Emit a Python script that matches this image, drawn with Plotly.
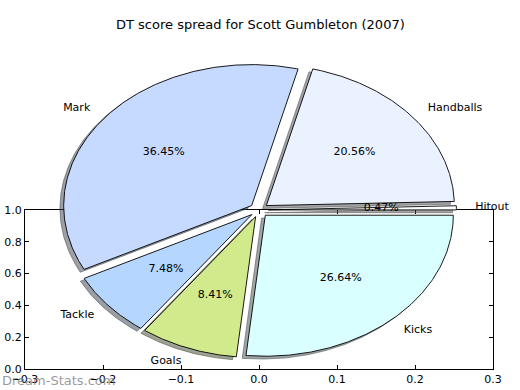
import numpy as np
import plotly.graph_objects as go

# ---------------- data ----------------
labels = ["Hitout", "Handballs", "Mark", "Tackle", "Goals", "Kicks"]
values = [0.47, 20.56, 36.45, 7.48, 8.41, 26.64]
colors = ["#ffffff", "#ebf2ff", "#c6d9fe", "#b4d6ff", "#d0ea8c", "#d9ffff"]
x_ticks = [-0.3, -0.2, -0.1, 0.0, 0.1, 0.2, 0.3]
y_ticks = [0.0, 0.2, 0.4, 0.6, 0.8, 1.0]
title = "DT score spread for Scott Gumbleton (2007)"
watermark = "Dream-Stats.com"

# ---------------- style ----------------
W, H = 520, 390
FONT = "DejaVu Sans"
EXPLODE = 0.05
SHADOW = (-0.02, -0.02)
LABEL_DIST = 1.1
PCT_DIST = 0.6
# pie axes mapping (pixels)
CX, CY, SX, SY = 259.0, 210.0, 188.0, 141.0


def fx(p):   # x pixel -> paper fraction
    return p / W


def fy(p):   # y pixel (from top) -> paper fraction
    return (H - p) / H


def hex_rgb(h):
    h = h.lstrip("#")
    return tuple(int(h[i:i + 2], 16) for i in (0, 2, 4))


fig = go.Figure()
# empty trace so that the framed axes is drawn
fig.add_trace(go.Scatter(x=[None], y=[None], xaxis="x", yaxis="y",
                         showlegend=False, hoverinfo="skip"))

total = float(sum(values))
starts, ends = [], []
t = 0.0
for v in values:
    starts.append(t)
    t += 360.0 * v / total
    ends.append(t)


def wedge_xy(t1, t2, dx, dy):
    n = max(int((t2 - t1) * 2), 2) + 1
    th = np.radians(np.linspace(t1, t2, n))
    xs = np.concatenate([[dx], dx + np.cos(th), [dx]])
    ys = np.concatenate([[dy], dy + np.sin(th), [dy]])
    return xs, ys


offsets = []
for t1, t2 in zip(starts, ends):
    mid = np.radians((t1 + t2) / 2)
    offsets.append((EXPLODE * np.cos(mid), EXPLODE * np.sin(mid), mid))

# shadows (below all wedges)
for (t1, t2, c, (dx, dy, mid)) in zip(starts, ends, colors, offsets):
    xs, ys = wedge_xy(t1, t2, dx + SHADOW[0], dy + SHADOW[1])
    r, g, b = hex_rgb(c)
    sc = "rgba(%d,%d,%d,0.5)" % (0.3 * r, 0.3 * g, 0.3 * b)
    fig.add_trace(go.Scatter(x=xs, y=ys, xaxis="x2", yaxis="y2", mode="lines",
                             fill="toself", fillcolor=sc,
                             line=dict(color=sc, width=1),
                             showlegend=False, hoverinfo="skip"))

# wedges
for (t1, t2, c, (dx, dy, mid)) in zip(starts, ends, colors, offsets):
    xs, ys = wedge_xy(t1, t2, dx, dy)
    fig.add_trace(go.Scatter(x=xs, y=ys, xaxis="x2", yaxis="y2", mode="lines",
                             fill="toself", fillcolor=c,
                             line=dict(color="black", width=0.9),
                             showlegend=False, hoverinfo="skip"))

# labels and percentages
lx, ly, lpos, px, py, ptxt = [], [], [], [], [], []
for lab, v, (dx, dy, mid) in zip(labels, values, offsets):
    xt = dx + LABEL_DIST * np.cos(mid)
    yt = dy + LABEL_DIST * np.sin(mid)
    lx.append(xt)
    ly.append(yt)
    lpos.append("middle right" if xt > 0 else "middle left")
    px.append(dx + PCT_DIST * np.cos(mid))
    py.append(dy + PCT_DIST * np.sin(mid))
    ptxt.append("%1.2f%%" % (100.0 * v / total))

fig.add_trace(go.Scatter(x=lx, y=ly, xaxis="x2", yaxis="y2", mode="text",
                         text=labels, textposition=lpos, cliponaxis=False,
                         textfont=dict(family=FONT, size=11, color="black"),
                         showlegend=False, hoverinfo="skip"))
fig.add_trace(go.Scatter(x=px, y=py, xaxis="x2", yaxis="y2", mode="text",
                         text=ptxt, textposition="middle center", cliponaxis=False,
                         textfont=dict(family=FONT, size=11, color="black"),
                         showlegend=False, hoverinfo="skip"))

axis_common = dict(showline=True, linecolor="black", linewidth=1, mirror="allticks",
                   ticks="inside", ticklen=4, tickcolor="black", tickwidth=1,
                   showgrid=False, zeroline=False, automargin=False,
                   tickfont=dict(family=FONT, size=11, color="black"))

fig.update_layout(
    width=W, height=H,
    margin=dict(l=0, r=0, t=0, b=0, pad=0, autoexpand=False),
    paper_bgcolor="white", plot_bgcolor="rgba(0,0,0,0)",
    showlegend=False, hovermode=False,
    font=dict(family=FONT, color="black"),
    xaxis=dict(domain=[fx(25), fx(493)], range=[-0.3, 0.3], tickvals=x_ticks,
               tickformat=".1f", anchor="y", **axis_common),
    yaxis=dict(domain=[fy(369), fy(210)], range=[0, 1], tickvals=y_ticks,
               tickformat=".1f", anchor="x", **axis_common),
    xaxis2=dict(domain=[0, 1], range=[-CX / SX, (W - CX) / SX], anchor="y2",
                visible=False, fixedrange=True, automargin=False),
    yaxis2=dict(domain=[0, 1], range=[-(H - CY) / SY, CY / SY], anchor="x2",
                visible=False, fixedrange=True, automargin=False),
    annotations=[
        dict(text=title, x=fx(260), y=fy(25), xref="paper", yref="paper",
             xanchor="center", yanchor="middle", showarrow=False,
             font=dict(family=FONT, size=13, color="black")),
        dict(text=watermark, x=0, y=fy(380), xref="paper", yref="paper",
             xanchor="left", yanchor="middle", showarrow=False,
             font=dict(family=FONT, size=13, color="rgba(120,120,120,0.75)")),
    ],
)

fig.write_html("out.html", config={"displayModeBar": False},
               post_script="document.body.style.margin='0px';")
